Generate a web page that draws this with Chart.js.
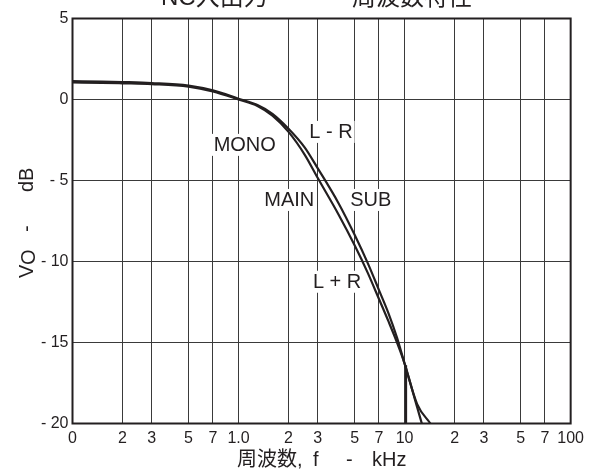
<!DOCTYPE html>
<html>
<head>
<meta charset="utf-8">
<script src="https://cdn.jsdelivr.net/npm/chart.js@4/dist/chart.umd.min.js"></script>
<style>
  html, body { margin: 0; padding: 0; background: #fff; }
  canvas { display: block; }
</style>
</head>
<body>
<canvas id="freqChart" width="589" height="473"></canvas>
<script>
    // Data (frequency in kHz, level in dB)
    const leftFreq  = [0.1, 0.15, 0.2, 0.3, 0.5, 0.7, 1.0, 1.3, 1.6, 2.0, 2.5, 3.0, 4.0, 5.0, 6.0, 7.0, 8.0, 9.0, 10.0, 11.9, 12.7];
    const leftDb    = [1.05, 1.03, 1.0, 0.95, 0.8, 0.5, 0.0, -0.4, -1.0, -2.0, -3.4, -4.85, -7.1, -9.0, -10.7, -12.3, -13.7, -15.0, -16.3, -19.0, -20];
    const rightFreq = [0.1, 0.15, 0.2, 0.3, 0.5, 0.7, 1.0, 1.3, 1.6, 2.0, 2.5, 3.0, 4.0, 5.0, 6.0, 7.0, 8.0, 9.0, 10.0, 11.9, 14.3];
    const rightDb   = [1.13, 1.11, 1.08, 1.02, 0.86, 0.56, 0.05, -0.34, -0.88, -1.8, -2.95, -4.25, -6.4, -8.35, -10.1, -11.75, -13.2, -14.7, -16.3, -18.8, -20];
    const dropFreq  = [10.2, 10.2];
    const dropDb    = [-16.4, -20];

    const xTickValues = [0.1, 0.2, 0.3, 0.5, 0.7, 1, 2, 3, 5, 7, 10, 20, 30, 50, 70, 100];
    const xTickLabels = ['0', '2', '3', '5', '7', '1.0', '2', '3', '5', '7', '10', '2', '3', '5', '7', '100'];

    const curveNames = ['MONO', 'L - R', 'MAIN', 'SUB', 'L + R'];
    const nameFreq   = [1.09, 3.6, 2.02, 6.26, 3.92];
    const nameDb     = [-2.8, -2.0, -6.2, -6.2, -11.25];

    const INK = '#231f20';
    const FONT = '"Liberation Sans", Arial, "Noto Sans CJK JP", sans-serif';

    const toPoints = (xs, ys) => xs.map((v, i) => ({ x: v, y: ys[i] }));

    const lineStyle = {
        borderColor: INK,
        borderWidth: 2.2,
        pointRadius: 0,
        fill: false,
        cubicInterpolationMode: 'monotone'
    };

    // labels, titles and the frame
    const textPlugin = {
        id: 'textPlugin',
        afterDatasetsDraw(chart) {
            const { ctx, scales: { x, y } } = chart;
            ctx.save();
            ctx.font = '20px ' + FONT;
            ctx.textAlign = 'center';
            ctx.textBaseline = 'middle';
            curveNames.forEach((t, i) => {
                const px = x.getPixelForValue(nameFreq[i]);
                const py = y.getPixelForValue(nameDb[i]);
                const w = ctx.measureText(t).width;
                ctx.fillStyle = '#fff';
                ctx.fillRect(px - w / 2 - 2, py - 11, w + 4, 22);
                ctx.fillStyle = INK;
                ctx.fillText(t, px, py + 1);
            });
            ctx.restore();
        },
        afterDraw(chart) {
            const { ctx, chartArea: a } = chart;
            ctx.save();
            ctx.strokeStyle = INK;
            ctx.lineWidth = 2;
            ctx.strokeRect(a.left, a.top, a.right - a.left, a.bottom - a.top);

            ctx.fillStyle = INK;
            ctx.textBaseline = 'alphabetic';
            ctx.textAlign = 'left';

            // chart title (cut off at the top edge)
            ctx.font = '24px ' + FONT;
            ctx.fillText('NC入出力', 161, 5);
            ctx.fillText('周波数特性', 352, 5);

            // x axis title
            ctx.font = '20px ' + FONT;
            ctx.textBaseline = 'middle';
            ctx.fillText('周波数,', 237, 460);
            ctx.fillText('f', 313, 460);
            ctx.fillText('-', 346, 460);
            ctx.fillText('kHz', 372, 460);

            // y axis title
            ctx.translate(27, 278);
            ctx.rotate(-Math.PI / 2);
            ctx.fillText('V', 0, 0);
            ctx.fillText('O', 13, 2);
            ctx.fillText('-', 46, 0);
            ctx.fillText('dB', 86, 0);
            ctx.restore();
        }
    };

    const config = {
        type: 'line',
        data: {
            datasets: [
                Object.assign({ label: 'MAIN / MONO', data: toPoints(leftFreq, leftDb) }, lineStyle),
                Object.assign({ label: 'SUB', data: toPoints(rightFreq, rightDb) }, lineStyle),
                Object.assign({ label: 'cut', data: toPoints(dropFreq, dropDb) }, lineStyle, { cubicInterpolationMode: 'default', tension: 0 })
            ]
        },
        options: {
            responsive: false,
            animation: false,
            layout: { padding: { top: 18.5, right: 14, left: 0, bottom: 0 } },
            plugins: {
                legend: { display: false },
                tooltip: { enabled: false }
            },
            scales: {
                x: {
                    type: 'logarithmic',
                    min: 0.1,
                    max: 100,
                    afterBuildTicks: (scale) => {
                        scale.ticks = xTickValues.map(v => ({ value: v }));
                    },
                    afterFit: (scale) => { scale.height = 49.5; },
                    ticks: {
                        autoSkip: false,
                        maxRotation: 0,
                        padding: 5,
                        color: INK,
                        font: { family: FONT, size: 16 },
                        callback: (v, i) => xTickLabels[i]
                    },
                    grid: { color: '#3a3a3a', lineWidth: 1, drawTicks: false },
                    border: { display: false }
                },
                y: {
                    type: 'linear',
                    min: -20,
                    max: 5,
                    afterFit: (scale) => { scale.width = 72.5; },
                    ticks: {
                        stepSize: 5,
                        padding: 4,
                        color: INK,
                        font: { family: FONT, size: 16 },
                        callback: (v) => v < 0 ? '- ' + (-v) : String(v)
                    },
                    grid: { color: '#3a3a3a', lineWidth: 1, drawTicks: false },
                    border: { display: false }
                }
            }
        },
        plugins: [textPlugin]
    };

    const ctx = document.getElementById('freqChart').getContext('2d');
    const freqChart = new Chart(ctx, config);
</script>
</body>
</html>
